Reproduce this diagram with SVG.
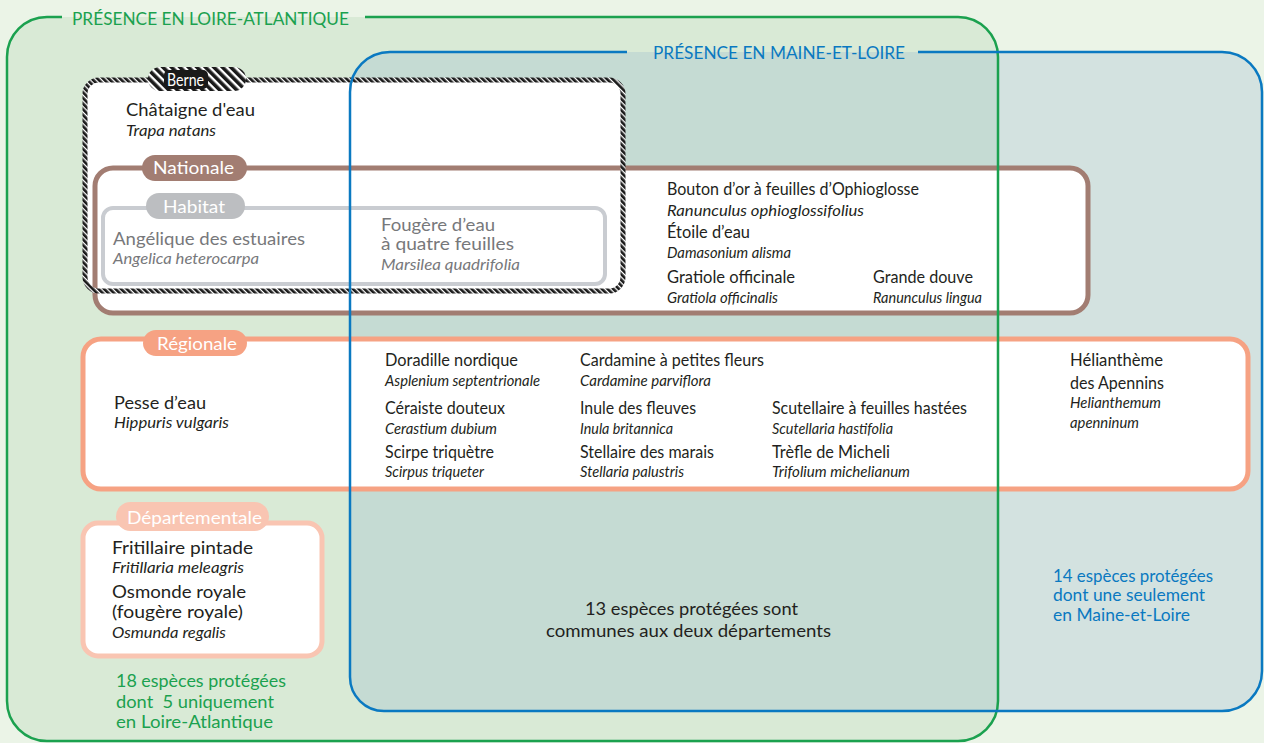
<svg xmlns="http://www.w3.org/2000/svg" width="1264" height="743" viewBox="0 0 1264 743">
<style>
text{font-family:Lato,"Liberation Sans",sans-serif;fill:#231f20;font-size:17px}
.i{font-style:italic;font-size:15px}
.gr{fill:#77787b}
.w{fill:#fff}
.tg{fill:#1ba14f;font-size:18px}
.tb{fill:#0a79c1}
.pre{white-space:pre}
</style>
<defs>
<pattern id="rope" patternUnits="userSpaceOnUse" width="4" height="4" patternTransform="rotate(-45)">
<rect width="4" height="4" fill="#fff"/><rect width="2.7" height="4" fill="#1a1a1a"/>
</pattern>
<pattern id="ropePill" patternUnits="userSpaceOnUse" width="6" height="6" patternTransform="rotate(-45)">
<rect width="6" height="6" fill="#fff"/><rect width="3.6" height="6" fill="#1a1a1a"/>
</pattern>
<clipPath id="greenClip"><rect x="7" y="17" width="991" height="724" rx="40"/></clipPath>
</defs>
<rect width="1264" height="743" fill="#ebf4e7"/>
<g id="areas">
<rect x="7" y="17" width="991" height="724" rx="40" fill="#d9ead6"/>
<path d="M390,52 H1222 A40,40 0 0 1 1262,92 V671 A40,40 0 0 1 1222,711 H384 A34,34 0 0 1 350,677 V92 A40,40 0 0 1 390,52 Z" fill="#d3e2e0"/>
<path clip-path="url(#greenClip)" d="M390,52 H1222 A40,40 0 0 1 1262,92 V671 A40,40 0 0 1 1222,711 H384 A34,34 0 0 1 350,677 V92 A40,40 0 0 1 390,52 Z" fill="#c5dbd3"/>
</g>
<g id="berne-fill">
<rect x="85" y="80" width="538" height="211" rx="14" fill="#fff"/>
</g>
<g id="nationale">
<rect x="95" y="168" width="993" height="145" rx="18" fill="#fff" stroke="#a27d72" stroke-width="5"/>
</g>
<g id="habitat">
<rect x="103" y="208" width="502" height="76" rx="10" fill="#fff" stroke="#c9ccd1" stroke-width="4"/>
</g>
<g id="berne">
<rect x="85" y="80" width="538" height="211" rx="14" fill="none" stroke="url(#rope)" stroke-width="5"/>
</g>
<g id="regionale">
<rect x="83" y="339" width="1165" height="150" rx="18" fill="#fff" stroke="#f6a283" stroke-width="5"/>
</g>
<g id="departementale">
<rect x="83" y="523" width="239" height="133" rx="15" fill="#fff" stroke="#f9c5b2" stroke-width="5"/>
</g>
<g id="outlines" fill="none" stroke-width="2.5">
<path d="M62,17 H47 A40,40 0 0 0 7,57 V701 A40,40 0 0 0 47,741 H958 A40,40 0 0 0 998,701 V57 A40,40 0 0 0 958,17 H365" stroke="#1ba14f"/>
<path d="M627,52 H390 A40,40 0 0 0 350,92 V677 A34,34 0 0 0 384,711 H1222 A40,40 0 0 0 1262,671 V92 A40,40 0 0 0 1222,52 H918" stroke="#0a79c1"/>
</g>
<g id="connectors"/>
<g id="labels">
<g id="label-berne">
<rect x="148" y="67" width="98" height="24" rx="12" fill="url(#ropePill)"/>
<rect x="164" y="70" width="44" height="19" rx="5" fill="#1a1a1a"/>
<text class="w" x="167" y="86" textLength="37" lengthAdjust="spacingAndGlyphs">Berne</text>
</g>
<g id="label-nationale">
<rect x="142" y="155" width="105" height="26" rx="13" fill="#a27d72"/>
<text class="w" x="153" y="174" textLength="81" lengthAdjust="spacingAndGlyphs">Nationale</text>
</g>
<g id="label-habitat">
<rect x="146" y="193" width="99" height="26" rx="13" fill="#bcbec1"/>
<text class="w" x="163" y="213" textLength="62" lengthAdjust="spacingAndGlyphs">Habitat</text>
</g>
<g id="label-regionale">
<rect x="143" y="330" width="104" height="26" rx="13" fill="#f6a283"/>
<text class="w" x="157" y="350" textLength="80" lengthAdjust="spacingAndGlyphs">Régionale</text>
</g>
<g id="label-departementale">
<rect x="116" y="502" width="153" height="29" rx="14.5" fill="#f9c5b2"/>
<text class="w" x="127" y="524" textLength="135" lengthAdjust="spacingAndGlyphs">Départementale</text>
</g>
</g>
<g id="titles">
<text class="tg" x="72" y="25" textLength="277" lengthAdjust="spacingAndGlyphs">PRÉSENCE EN LOIRE-ATLANTIQUE</text>
<text class="tb" x="653" y="59" textLength="252" lengthAdjust="spacingAndGlyphs">PRÉSENCE EN MAINE-ET-LOIRE</text>
</g>
<g id="species-berne">
<text x="126" y="116" textLength="129" lengthAdjust="spacingAndGlyphs">Châtaigne d'eau</text>
<text class="i" x="126" y="136" textLength="90" lengthAdjust="spacingAndGlyphs">Trapa natans</text>
</g>
<g id="species-habitat">
<text class="gr" x="113" y="245" textLength="192" lengthAdjust="spacingAndGlyphs">Angélique des estuaires</text>
<text class="gr i" x="113" y="264" textLength="146" lengthAdjust="spacingAndGlyphs">Angelica heterocarpa</text>
<text class="gr" x="381" y="231" textLength="114" lengthAdjust="spacingAndGlyphs">Fougère d’eau</text>
<text class="gr" x="381" y="250" textLength="133" lengthAdjust="spacingAndGlyphs">à quatre feuilles</text>
<text class="gr i" x="381" y="270" textLength="139" lengthAdjust="spacingAndGlyphs">Marsilea quadrifolia</text>
</g>
<g id="species-nationale">
<text x="667" y="195" textLength="252" lengthAdjust="spacingAndGlyphs">Bouton d’or à feuilles d’Ophioglosse</text>
<text class="i" x="667" y="216" textLength="197" lengthAdjust="spacingAndGlyphs">Ranunculus ophioglossifolius</text>
<text x="667" y="238" textLength="83" lengthAdjust="spacingAndGlyphs">Étoile d’eau</text>
<text class="i" x="667" y="258" textLength="124" lengthAdjust="spacingAndGlyphs">Damasonium alisma</text>
<text x="667" y="283" textLength="128" lengthAdjust="spacingAndGlyphs">Gratiole officinale</text>
<text class="i" x="667" y="303" textLength="111" lengthAdjust="spacingAndGlyphs">Gratiola officinalis</text>
<text x="873" y="283" textLength="100" lengthAdjust="spacingAndGlyphs">Grande douve</text>
<text class="i" x="873" y="303" textLength="109" lengthAdjust="spacingAndGlyphs">Ranunculus lingua</text>
</g>
<g id="species-regionale">
<text x="114" y="409" textLength="92" lengthAdjust="spacingAndGlyphs">Pesse d’eau</text>
<text class="i" x="114" y="428" textLength="115" lengthAdjust="spacingAndGlyphs">Hippuris vulgaris</text>
<text x="385" y="366" textLength="133" lengthAdjust="spacingAndGlyphs">Doradille nordique</text>
<text class="i" x="385" y="386" textLength="155" lengthAdjust="spacingAndGlyphs">Asplenium septentrionale</text>
<text x="385" y="414" textLength="120" lengthAdjust="spacingAndGlyphs">Céraiste douteux</text>
<text class="i" x="385" y="434" textLength="112" lengthAdjust="spacingAndGlyphs">Cerastium dubium</text>
<text x="385" y="458" textLength="109" lengthAdjust="spacingAndGlyphs">Scirpe triquètre</text>
<text class="i" x="385" y="477" textLength="99" lengthAdjust="spacingAndGlyphs">Scirpus triqueter</text>
<text x="580" y="366" textLength="184" lengthAdjust="spacingAndGlyphs">Cardamine à petites fleurs</text>
<text class="i" x="580" y="386" textLength="131" lengthAdjust="spacingAndGlyphs">Cardamine parviflora</text>
<text x="580" y="414" textLength="116" lengthAdjust="spacingAndGlyphs">Inule des fleuves</text>
<text class="i" x="580" y="434" textLength="93" lengthAdjust="spacingAndGlyphs">Inula britannica</text>
<text x="580" y="458" textLength="134" lengthAdjust="spacingAndGlyphs">Stellaire des marais</text>
<text class="i" x="580" y="477" textLength="104" lengthAdjust="spacingAndGlyphs">Stellaria palustris</text>
<text x="772" y="414" textLength="195" lengthAdjust="spacingAndGlyphs">Scutellaire à feuilles hastées</text>
<text class="i" x="772" y="434" textLength="121" lengthAdjust="spacingAndGlyphs">Scutellaria hastifolia</text>
<text x="772" y="458" textLength="118" lengthAdjust="spacingAndGlyphs">Trèfle de Micheli</text>
<text class="i" x="772" y="477" textLength="138" lengthAdjust="spacingAndGlyphs">Trifolium michelianum</text>
<text x="1070" y="366" textLength="93" lengthAdjust="spacingAndGlyphs">Hélianthème</text>
<text x="1070" y="389" textLength="94" lengthAdjust="spacingAndGlyphs">des Apennins</text>
<text class="i" x="1070" y="408" textLength="91" lengthAdjust="spacingAndGlyphs">Helianthemum</text>
<text class="i" x="1070" y="428" textLength="69" lengthAdjust="spacingAndGlyphs">apenninum</text>
</g>
<g id="species-departementale">
<text x="112" y="554" textLength="141" lengthAdjust="spacingAndGlyphs">Fritillaire pintade</text>
<text class="i" x="112" y="573" textLength="132" lengthAdjust="spacingAndGlyphs">Fritillaria meleagris</text>
<text x="112" y="598" textLength="134" lengthAdjust="spacingAndGlyphs">Osmonde royale</text>
<text x="112" y="618" textLength="131" lengthAdjust="spacingAndGlyphs">(fougère royale)</text>
<text class="i" x="112" y="638" textLength="114" lengthAdjust="spacingAndGlyphs">Osmunda regalis</text>
</g>
<g id="stats">
<text class="tg" x="116" y="687" textLength="170" lengthAdjust="spacingAndGlyphs">18 espèces protégées</text>
<text class="tg pre" x="116" y="708" textLength="158" lengthAdjust="spacingAndGlyphs">dont  5 uniquement</text>
<text class="tg" x="116" y="728" textLength="157" lengthAdjust="spacingAndGlyphs">en Loire-Atlantique</text>
<text class="tb" x="1053" y="582" textLength="160" lengthAdjust="spacingAndGlyphs">14 espèces protégées</text>
<text class="tb" x="1053" y="601" textLength="152" lengthAdjust="spacingAndGlyphs">dont une seulement</text>
<text class="tb" x="1053" y="621" textLength="137" lengthAdjust="spacingAndGlyphs">en Maine-et-Loire</text>
<text x="585" y="615" textLength="213" lengthAdjust="spacingAndGlyphs">13 espèces protégées sont</text>
<text x="546" y="637" textLength="285" lengthAdjust="spacingAndGlyphs">communes aux deux départements</text>
</g>
</svg>
